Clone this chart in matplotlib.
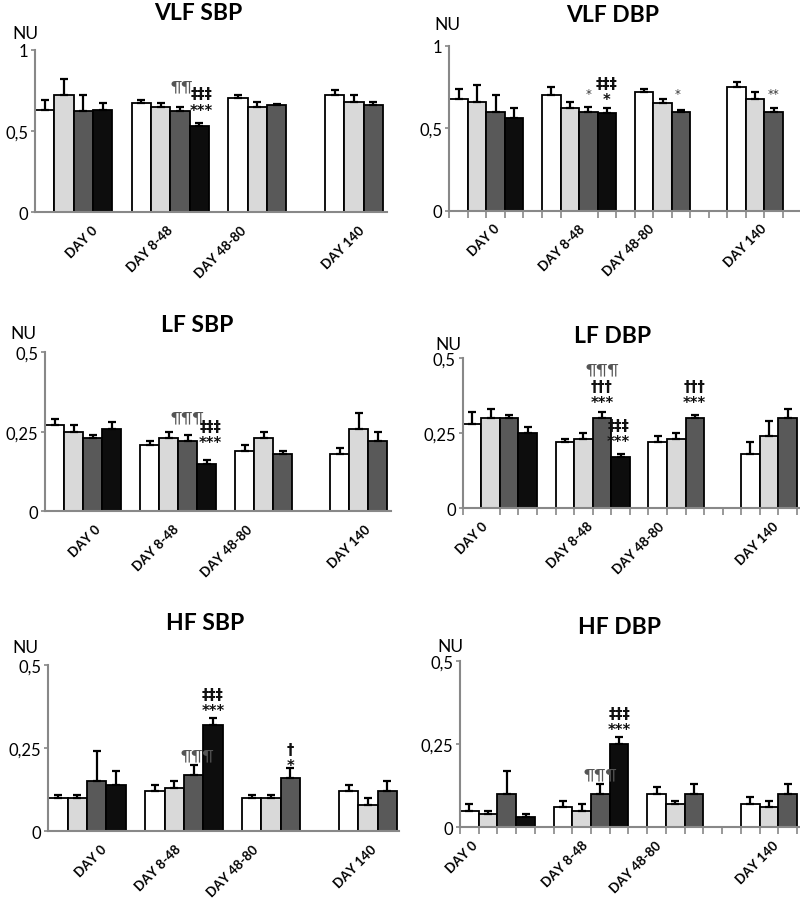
import matplotlib
matplotlib.use('Agg')
import matplotlib.pyplot as plt

plt.rcParams['font.family'] = ['Lato', 'DejaVu Sans']

# categories and bar colours (groups: control, low, mid, high)
days = ['DAY 0', 'DAY 8-48', 'DAY 48-80', 'DAY 140']
group_start = [0, 5, 10, 15]
colors = ['#ffffff', '#d9d9d9', '#595959', '#0d0d0d']

# mean values (NU) per day, one entry per bar
vlf_sbp = [[0.63, 0.72, 0.62, 0.63], [0.67, 0.65, 0.62, 0.53], [0.70, 0.65, 0.66], [0.72, 0.68, 0.66]]
vlf_sbp_err = [[0.06, 0.10, 0.10, 0.04], [0.02, 0.02, 0.03, 0.02], [0.02, 0.03, 0.005], [0.03, 0.04, 0.02]]
vlf_dbp = [[0.68, 0.66, 0.60, 0.56], [0.70, 0.62, 0.60, 0.59], [0.72, 0.65, 0.60], [0.75, 0.68, 0.60]]
vlf_dbp_err = [[0.06, 0.10, 0.10, 0.06], [0.05, 0.04, 0.03, 0.03], [0.02, 0.03, 0.01], [0.03, 0.04, 0.02]]
lf_sbp = [[0.27, 0.25, 0.23, 0.26], [0.21, 0.23, 0.22, 0.15], [0.19, 0.23, 0.18], [0.18, 0.26, 0.22]]
lf_sbp_err = [[0.02, 0.02, 0.01, 0.02], [0.01, 0.02, 0.02, 0.01], [0.02, 0.02, 0.01], [0.02, 0.05, 0.03]]
lf_dbp = [[0.28, 0.30, 0.30, 0.25], [0.22, 0.23, 0.30, 0.17], [0.22, 0.23, 0.30], [0.18, 0.24, 0.30]]
lf_dbp_err = [[0.04, 0.03, 0.01, 0.02], [0.01, 0.02, 0.02, 0.01], [0.02, 0.02, 0.01], [0.04, 0.05, 0.03]]
hf_sbp = [[0.10, 0.10, 0.15, 0.14], [0.12, 0.13, 0.17, 0.32], [0.10, 0.10, 0.16], [0.12, 0.08, 0.12]]
hf_sbp_err = [[0.01, 0.01, 0.09, 0.04], [0.02, 0.02, 0.03, 0.02], [0.01, 0.01, 0.03], [0.02, 0.02, 0.03]]
hf_dbp = [[0.05, 0.04, 0.10, 0.03], [0.06, 0.05, 0.10, 0.25], [0.10, 0.07, 0.10], [0.07, 0.06, 0.10]]
hf_dbp_err = [[0.02, 0.01, 0.07, 0.01], [0.02, 0.02, 0.03, 0.02], [0.02, 0.01, 0.03], [0.02, 0.02, 0.03]]

# significance marks: (x slot, y, text); stacked symbols share one text
vlf_sbp_marks = [(7.6, 0.775, '¶¶'), (8.6, 0.678, '‡‡‡\n***')]
vlf_dbp_marks = [(7.5, 0.71, '*'), (8.5, 0.722, '‡‡‡\n*'),
                 (12.3, 0.712, '*'), (17.5, 0.712, '**')]
lf_sbp_marks = [(7.5, 0.296, '¶¶¶'), (8.7, 0.241, '‡‡‡\n***')]
lf_dbp_marks = [(7.5, 0.463, '¶¶¶'), (7.5, 0.378, '†††\n***'),
                (8.4, 0.250, '‡‡‡\n***'), (12.5, 0.378, '†††\n***')]
hf_sbp_marks = [(7.7, 0.229, '¶¶¶'), (8.5, 0.387, '‡‡‡\n***'), (12.5, 0.222, '†\n*')]
hf_dbp_marks = [(7.5, 0.16, '¶¶¶'), (8.5, 0.3175, '‡‡‡\n***')]

W, H = 800, 904
fig = plt.figure(figsize=(W / 100, H / 100), dpi=100)

# layout in pixels: left, top, right, bottom, xmax, ymax, label slots, title xy, NU xy, minor ticks
panels = [
    dict(title='VLF SBP', data=vlf_sbp, err=vlf_sbp_err, marks=vlf_sbp_marks, box=(35, 50.7, 387, 213.3),
         xmax=18.2, ymax=1, yt=[0, 0.5, 1], ytl=['0', '0,5', '1'], lab=[2.9, 6.8, 10.6, 16.7],
         tpos=(198, 13), nu=(25, 34), ticks=False),
    dict(title='VLF DBP', data=vlf_dbp, err=vlf_dbp_err, marks=vlf_dbp_marks, box=(449.3, 46.7, 799.7, 211.7),
         xmax=18.9, ymax=1, yt=[0, 0.5, 1], ytl=['0', '0,5', '1'], lab=[2.4, 7.0, 10.7, 16.8],
         tpos=(613, 15), nu=(447, 25), ticks=True),
    dict(title='LF SBP', data=lf_sbp, err=lf_sbp_err, marks=lf_sbp_marks, box=(45, 353.3, 390.8, 512.3),
         xmax=18.2, ymax=0.5, yt=[0, 0.25, 0.5], ytl=['0', '0,25', '0,5'], lab=[2.6, 6.7, 10.6, 16.8],
         tpos=(197, 325), nu=(23, 334), ticks=False),
    dict(title='LF DBP', data=lf_dbp, err=lf_dbp_err, marks=lf_dbp_marks, box=(462.7, 359, 799.7, 509.3),
         xmax=18.15, ymax=0.5, yt=[0, 0.25, 0.5], ytl=['0', '0,25', '0,5'], lab=[1.0, 6.7, 10.5, 16.7],
         tpos=(613, 337), nu=(448, 345), ticks=True),
    dict(title='HF SBP', data=hf_sbp, err=hf_sbp_err, marks=hf_sbp_marks, box=(48.3, 665.7, 398.9, 832.3),
         xmax=18.1, ymax=0.5, yt=[0, 0.25, 0.5], ytl=['0', '0,25', '0,5'], lab=[2.7, 6.5, 10.5, 16.6],
         tpos=(205, 623), nu=(25, 648), ticks=False),
    dict(title='HF DBP', data=hf_dbp, err=hf_dbp_err, marks=hf_dbp_marks, box=(460, 661.7, 799.8, 828.3),
         xmax=18.15, ymax=0.5, yt=[0, 0.25, 0.5], ytl=['0', '0,25', '0,5'], lab=[0.6, 6.5, 10.4, 16.7],
         tpos=(620, 628), nu=(450, 647), ticks=True),
]

for p in panels:
    l, t, r, b = p['box']
    ax = fig.add_axes([l / W, 1 - b / H, (r - l) / W, (b - t) / H])
    for g, (vals, errs) in enumerate(zip(p['data'], p['err'])):
        for i, (v, e) in enumerate(zip(vals, errs)):
            x = group_start[g] + i + 0.5
            ax.bar(x, v, width=1, color=colors[i], edgecolor='black', linewidth=1.3, zorder=2)
            ax.errorbar(x, v, yerr=[[0], [e]], fmt='none', ecolor='black', elinewidth=1.6,
                        capsize=3, capthick=1.6, zorder=3)
    for x, y, s in p['marks']:
        if s.startswith('*'):
            ax.text(x, y, s, ha='center', va='center', fontsize=8.5, color='#333333',
                    family='DejaVu Sans')
        elif s.startswith('¶'):
            ax.text(x, y, s, ha='center', va='center', fontsize=11.5, color='#555555')
        else:
            ax.text(x, y, s, ha='center', va='center', fontsize=10.5, fontweight='bold',
                    color='#111111', family='DejaVu Sans', linespacing=1.1)
    ax.set_xlim(0, p['xmax'])
    ax.set_ylim(0, p['ymax'])
    ax.set_yticks(p['yt'])
    ax.set_yticklabels(p['ytl'], fontsize=12)
    ax.set_xticks(p['lab'])
    ax.set_xticklabels(days, rotation=45, ha='right', rotation_mode='anchor',
                       fontsize=9.5, fontweight='bold')
    ax.tick_params(axis='x', which='major', length=0, pad=8)
    if p['ticks']:
        ax.set_xticks(range(0, int(p['xmax']) + 1), minor=True)
        ax.tick_params(axis='x', which='minor', length=5, width=1.2, color='#888888')
    ax.tick_params(axis='y', length=3, width=1.2, color='#888888', pad=2)
    for side in ['top', 'right']:
        ax.spines[side].set_visible(False)
    for side in ['left', 'bottom']:
        ax.spines[side].set_color('#888888')
        ax.spines[side].set_linewidth(1.5)
    ax.patch.set_alpha(0)
    fig.text(p['tpos'][0] / W, 1 - p['tpos'][1] / H, p['title'], ha='center', va='center',
             fontsize=16.5, fontweight='bold')
    fig.text(p['nu'][0] / W, 1 - p['nu'][1] / H, 'NU', ha='center', va='center', fontsize=12.5)

fig.savefig('out.png', dpi=100)
